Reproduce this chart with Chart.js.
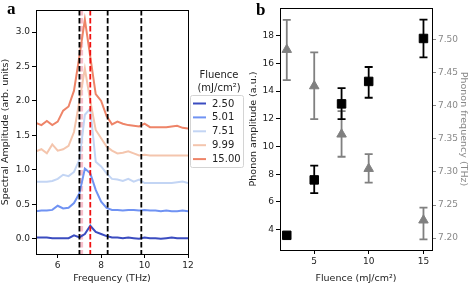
<!DOCTYPE html>
<html>
<head>
<meta charset="utf-8">
<script src="https://cdn.jsdelivr.net/npm/chart.js@4.4.1/dist/chart.umd.min.js"></script>
<style>
  body { margin: 0; background: #fff; width: 469px; height: 288px; position: relative; overflow: hidden; }
  #chartA { position: absolute; left: 0; top: 0; }
  #chartB { position: absolute; left: 248px; top: 0; }
  .panel { position: absolute; font: bold 17px "Liberation Serif", serif; line-height: 17px; color: #000; }
</style>
</head>
<body>
<canvas id="chartA" width="250" height="288"></canvas>
<canvas id="chartB" width="221" height="288"></canvas>
<div class="panel" style="left:7px;top:0px">a</div>
<div class="panel" style="left:256px;top:1px">b</div>
<script>
// panel a: spectra (offset by fluence)
const freqs = [5, 5.25, 5.5, 5.75, 6, 6.25, 6.5, 6.75, 7, 7.25, 7.5, 7.75, 8, 8.25, 8.5, 8.75,
               9, 9.25, 9.5, 9.75, 10, 10.25, 10.5, 10.75, 11, 11.25, 11.5, 11.75, 12];
const spec250 = [0.02, 0.02, 0.02, 0.01, 0.01, 0.01, 0.01, 0.05, 0.02, 0.07, 0.19, 0.10, 0.07, 0.04, 0.02,
                 0.02, 0.01, 0.02, 0.01, 0.00, 0.02, 0.01, 0.01, 0.00, 0.01, 0.02, 0.01, 0.01, 0.01];
const spec501 = [0.40, 0.41, 0.41, 0.42, 0.48, 0.44, 0.45, 0.52, 0.66, 1.02, 0.95, 0.71, 0.54, 0.45, 0.42,
                 0.42, 0.41, 0.42, 0.42, 0.41, 0.42, 0.41, 0.41, 0.40, 0.41, 0.40, 0.40, 0.41, 0.40];
const spec751 = [0.83, 0.83, 0.83, 0.84, 0.87, 0.93, 0.91, 0.97, 1.15, 1.80, 1.89, 1.12, 1.05, 0.95, 0.87,
                 0.86, 0.84, 0.87, 0.83, 0.86, 0.81, 0.81, 0.81, 0.81, 0.81, 0.81, 0.82, 0.83, 0.81];
const spec999 = [1.27, 1.30, 1.24, 1.37, 1.28, 1.30, 1.35, 1.55, 2.00, 2.47, 2.00, 1.58, 1.46, 1.34, 1.28,
                 1.24, 1.25, 1.27, 1.24, 1.21, 1.22, 1.21, 1.21, 1.21, 1.21, 1.21, 1.21, 1.21, 1.21];
const spec1500 = [1.68, 1.65, 1.71, 1.65, 1.70, 1.86, 1.92, 2.15, 2.65, 3.18, 2.64, 2.10, 2.00, 1.78, 1.66,
                  1.70, 1.67, 1.65, 1.64, 1.63, 1.67, 1.62, 1.62, 1.62, 1.62, 1.63, 1.64, 1.61, 1.60];
const fluenceLabels = ['2.50', '5.01', '7.51', '9.99', '15.00'];
const blackMarks = [7.0, 8.3, 9.85];
const redMarks = [7.5];
const pinkMarks = [7.1];
const specTicksX = [6, 8, 10, 12];
const specTicksY = [0, 0.5, 1.0, 1.5, 2.0, 2.5, 3.0];

// panel b: fitted phonon amplitude / frequency
const fluence = [2.5, 5.01, 7.51, 9.99, 15.0];
const phononAmp = [3.59, 7.59, 13.08, 14.70, 17.80];
const ampLow = [3.59, 6.63, 11.98, 13.52, 16.43];
const ampHigh = [3.59, 8.62, 14.22, 15.74, 19.16];
const phononFreq = [7.485, 7.430, 7.357, 7.305, 7.227];
const freqLow = [7.439, 7.380, 7.323, 7.284, 7.198];
const freqHigh = [7.530, 7.481, 7.392, 7.327, 7.246];
const fluenceTicks = [5, 10, 15];
const ampTicks = [4, 6, 8, 10, 12, 14, 16, 18];
const freqTicks = [7.20, 7.25, 7.30, 7.35, 7.40, 7.45, 7.50];

const lineColors = ['#3b4cc0', '#7093f3', '#c3d5f4', '#f4c5ad', '#ee8468'];
const FONT = '"DejaVu Sans", sans-serif';
const TEXT = '#222';

function setTicks(list) {
  return s => { s.ticks = list.map(v => ({ value: v })); };
}

function axis(extra) {
  return Object.assign({
    type: 'linear',
    grid: { drawOnChartArea: false, drawTicks: true, tickLength: 4, color: '#000', tickColor: '#000' },
    border: { display: true, color: '#000', width: 1 },
    ticks: { color: TEXT, font: { family: FONT, size: 9 }, padding: 2, autoSkip: false, maxRotation: 0 },
    title: { display: true, color: TEXT, font: { family: FONT, size: 9.5 }, padding: 2 }
  }, extra);
}

// box around plot area
const frame = {
  id: 'frame',
  afterDraw(chart) {
    const a = chart.chartArea, ctx = chart.ctx;
    ctx.save();
    ctx.strokeStyle = '#000';
    ctx.lineWidth = 1;
    ctx.strokeRect(Math.round(a.left) + 0.5, Math.round(a.top) + 0.5,
                   Math.round(a.right - a.left), Math.round(a.bottom - a.top));
    ctx.restore();
  }
};

function drawVLines(chart, list, color, width) {
  const ctx = chart.ctx, a = chart.chartArea, xs = chart.scales.x;
  ctx.save();
  ctx.strokeStyle = color;
  ctx.lineWidth = width;
  ctx.setLineDash([5.5, 2.5]);
  list.forEach(v => {
    const px = xs.getPixelForValue(v);
    ctx.beginPath();
    ctx.moveTo(px, a.top);
    ctx.lineTo(px, a.bottom);
    ctx.stroke();
  });
  ctx.restore();
}

const vlines = {
  id: 'vlines',
  beforeDatasetsDraw(chart) {
    drawVLines(chart, pinkMarks, 'rgba(246,170,185,0.75)', 3);
  },
  afterDatasetsDraw(chart) {
    drawVLines(chart, blackMarks, '#000', 1.8);
    drawVLines(chart, redMarks, '#f01010', 1.8);
  }
};

const fluenceLegend = {
  id: 'fluenceLegend',
  afterDraw(chart) {
    const ctx = chart.ctx;
    ctx.save();
    ctx.fillStyle = TEXT;
    ctx.font = '10px ' + FONT;
    ctx.textAlign = 'center';
    ctx.textBaseline = 'middle';
    ctx.fillText('Fluence', 219, 75);
    ctx.fillText('(mJ/cm²)', 219, 88);
    ctx.strokeStyle = '#d4d4d4';
    ctx.lineWidth = 1;
    ctx.beginPath();
    ctx.roundRect(190.5, 95.5, 53, 72, 2);
    ctx.stroke();
    ctx.textAlign = 'left';
    chart.data.datasets.forEach((ds, i) => {
      const y = 103.5 + i * 13.9;
      ctx.strokeStyle = ds.borderColor;
      ctx.lineWidth = 2;
      ctx.beginPath();
      ctx.moveTo(193, y);
      ctx.lineTo(206, y);
      ctx.stroke();
      ctx.fillStyle = TEXT;
      ctx.fillText(ds.label, 212, y + 0.5);
    });
    ctx.restore();
  }
};

const errorBars = {
  id: 'errorBars',
  beforeDatasetDraw(chart, args) {
    const ds = chart.data.datasets[args.index];
    if (!ds.errLow) return;
    const ctx = chart.ctx, xs = chart.scales.x, ys = chart.scales[ds.yAxisID];
    ctx.save();
    ctx.strokeStyle = ds.borderColor;
    ctx.lineWidth = 1.8;
    ds.data.forEach((p, i) => {
      const px = xs.getPixelForValue(p.x);
      const y1 = ys.getPixelForValue(ds.errLow[i]);
      const y2 = ys.getPixelForValue(ds.errHigh[i]);
      if (Math.abs(y1 - y2) < 1) return;
      ctx.beginPath();
      ctx.moveTo(px, y1); ctx.lineTo(px, y2);
      ctx.moveTo(px - 4, y1); ctx.lineTo(px + 4, y1);
      ctx.moveTo(px - 4, y2); ctx.lineTo(px + 4, y2);
      ctx.stroke();
    });
    ctx.restore();
  }
};

const specSeries = [spec250, spec501, spec751, spec999, spec1500];

new Chart(document.getElementById('chartA'), {
  type: 'line',
  data: {
    datasets: specSeries.map((vals, i) => ({
      label: fluenceLabels[i],
      data: freqs.map((f, j) => ({ x: f, y: vals[j] })),
      borderColor: lineColors[i],
      borderWidth: 2,
      pointRadius: 0,
      tension: 0,
      order: 5 - i
    }))
  },
  options: {
    responsive: false,
    animation: false,
    layout: { padding: { top: 10, right: 62, left: 0, bottom: 0 } },
    plugins: { legend: { display: false }, tooltip: { enabled: false } },
    scales: {
      x: axis({
        min: 5, max: 12,
        afterBuildTicks: setTicks(specTicksX),
        afterFit: s => { s.height = 34; },
        title: { display: true, text: 'Frequency (THz)', color: TEXT, font: { family: FONT, size: 9.5 }, padding: { top: 2, bottom: 4 } }
      }),
      y: axis({
        min: -0.22, max: 3.32,
        afterBuildTicks: setTicks(specTicksY),
        afterFit: s => { s.width = 36; },
        ticks: { color: TEXT, font: { family: FONT, size: 9 }, padding: 2, callback: v => v.toFixed(1) },
        title: { display: true, text: 'Spectral Amplitude (arb. units)', color: TEXT, font: { family: FONT, size: 9.5 }, padding: { top: 0, bottom: 2 } }
      })
    }
  },
  plugins: [vlines, frame, fluenceLegend]
});

new Chart(document.getElementById('chartB'), {
  type: 'scatter',
  data: {
    datasets: [
      {
        label: 'Phonon amplitude',
        data: fluence.map((f, i) => ({ x: f, y: phononAmp[i] })),
        errLow: ampLow, errHigh: ampHigh,
        yAxisID: 'y',
        pointStyle: 'rect',
        pointRadius: 6,
        backgroundColor: '#000',
        borderColor: '#000',
        borderWidth: 1
      },
      {
        label: 'Phonon frequency',
        data: fluence.map((f, i) => ({ x: f, y: phononFreq[i] })),
        errLow: freqLow, errHigh: freqHigh,
        yAxisID: 'y2',
        pointStyle: 'triangle',
        pointRadius: 5.5,
        backgroundColor: '#808080',
        borderColor: '#808080',
        borderWidth: 1
      }
    ]
  },
  options: {
    responsive: false,
    animation: false,
    layout: { padding: { top: 8, right: 0, left: 0, bottom: 0 } },
    plugins: { legend: { display: false }, tooltip: { enabled: false } },
    scales: {
      x: axis({
        min: 1.88, max: 15.78,
        afterBuildTicks: setTicks(fluenceTicks),
        afterFit: s => { s.height = 38; },
        title: { display: true, text: 'Fluence (mJ/cm²)', color: TEXT, font: { family: FONT, size: 9.5 }, padding: { top: 2, bottom: 4 } }
      }),
      y: axis({
        position: 'left',
        min: 2.53, max: 20.0,
        afterBuildTicks: setTicks(ampTicks),
        afterFit: s => { s.width = 32; },
        title: { display: true, text: 'Phonon amplitude (a.u.)', color: TEXT, font: { family: FONT, size: 9.5 }, padding: { top: 0, bottom: 2 } }
      }),
      y2: axis({
        position: 'right',
        min: 7.182, max: 7.548,
        afterBuildTicks: setTicks(freqTicks),
        afterFit: s => { s.width = 37; },
        grid: { drawOnChartArea: false, drawTicks: true, tickLength: 4, color: '#888', tickColor: '#888' },
        ticks: { color: '#888', font: { family: FONT, size: 9 }, padding: 2, callback: v => v.toFixed(2) },
        title: { display: true, text: 'Phonon frequency (THz)', color: '#888', font: { family: FONT, size: 9.5 }, padding: { top: 0, bottom: 2 } }
      })
    }
  },
  plugins: [errorBars, frame]
});
</script>
</body>
</html>
